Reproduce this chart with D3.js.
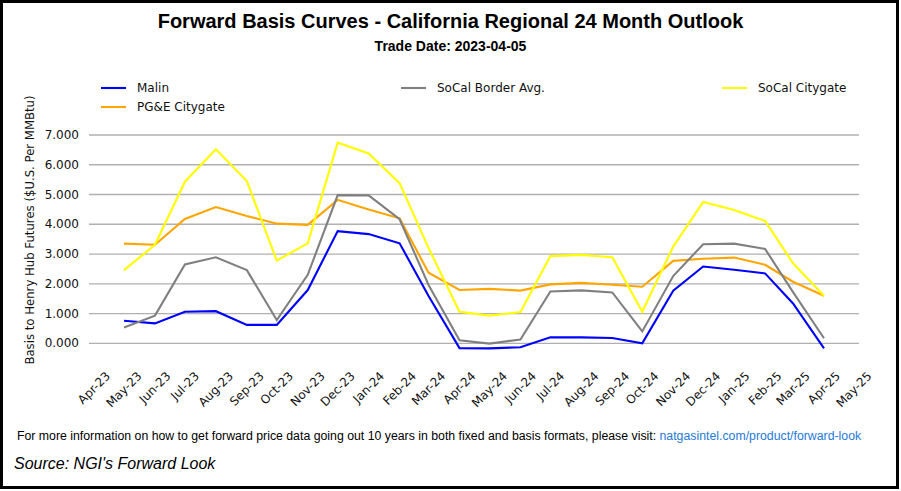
<!DOCTYPE html>
<html>
<head>
<meta charset="utf-8">
<script src="https://cdn.jsdelivr.net/npm/d3@7"></script>
<style>
  html, body { margin: 0; padding: 0; background: #fff; }
  svg { display: block; }
</style>
</head>
<body>
<svg id="chart" width="901" height="491"></svg>
<script>
// ---- data ----
const months = ["2023-05","2023-06","2023-07","2023-08","2023-09","2023-10","2023-11","2023-12",
  "2024-01","2024-02","2024-03","2024-04","2024-05","2024-06","2024-07","2024-08","2024-09","2024-10",
  "2024-11","2024-12","2025-01","2025-02","2025-03","2025-04"];
const malin = [0.76,0.67,1.06,1.08,0.62,0.62,1.79,3.77,3.67,3.36,1.59,-0.16,-0.17,-0.13,0.20,0.20,0.18,0.00,1.77,2.58,2.47,2.35,1.34,-0.17];
const pgeCitygate = [3.35,3.31,4.18,4.58,4.28,4.02,3.98,4.82,4.50,4.20,2.37,1.79,1.83,1.77,1.98,2.03,1.97,1.90,2.77,2.84,2.88,2.64,2.07,1.60];
const socalBorder = [0.53,0.93,2.65,2.89,2.46,0.78,2.30,4.98,4.97,4.17,1.96,0.10,-0.01,0.13,1.74,1.78,1.71,0.40,2.26,3.33,3.35,3.17,1.72,0.17];
const socalCitygate = [2.46,3.31,5.43,6.52,5.45,2.78,3.36,6.74,6.38,5.38,3.20,1.06,0.93,1.05,2.93,2.97,2.89,1.06,3.25,4.75,4.48,4.11,2.69,1.60];
const seriesNames = ["Malin","PG&E Citygate","SoCal Border Avg.","SoCal Citygate"];
const seriesColors = ["#0000ff","#ffa500","#808080","#ffff00"];
const yTicks = [0,1,2,3,4,5,6,7];
const titleText = "Forward Basis Curves - California Regional 24 Month Outlook";
const subtitleText = "Trade Date: 2023-04-05";
const yLabelText = "Basis to Henry Hub Futures ($U.S. Per MMBtu)";
const footerText = "For more information on how to get forward price data going out 10 years in both fixed and basis formats, please visit: ";
const footerLink = "natgasintel.com/product/forward-look";
const sourceText = "Source: NGI's Forward Look";

// ---- setup ----
const svg = d3.select("#chart");
const W = 901, H = 491;
const parse = d3.timeParse("%Y-%m");
const dates = months.map(parse);
const allSeries = [malin, pgeCitygate, socalBorder, socalCitygate];

const plot = { left: 89, right: 859, top: 132.0, bottom: 358.2 };

// x: time scale with 5% margins on each side (matplotlib-like autoscale)
const ext = d3.extent(dates);
const span = ext[1] - ext[0];
const x = d3.scaleTime()
  .domain([new Date(+ext[0] - span * 0.05), new Date(+ext[1] + span * 0.05)])
  .range([plot.left, plot.right]);
const y = d3.scaleLinear().domain([-0.5, 7.1]).range([plot.bottom, plot.top]);

svg.append("rect").attr("width", W).attr("height", H).attr("fill", "#fff");

// gridlines
svg.append("g").selectAll("line").data(yTicks).join("line")
  .attr("x1", plot.left).attr("x2", plot.right)
  .attr("y1", d => y(d)).attr("y2", d => y(d))
  .attr("stroke", "#b0b0b0").attr("stroke-width", 1.3);

// y tick labels
svg.append("g").selectAll("text").data(yTicks).join("text")
  .attr("x", 79).attr("y", d => y(d))
  .attr("text-anchor", "end").attr("dominant-baseline", "central")
  .attr("font-family", "DejaVu Sans").attr("font-size", 12).attr("fill", "#111")
  .text(d => d3.format(".3f")(d));

// y axis label
svg.append("text")
  .attr("transform", `translate(30,230) rotate(-90)`)
  .attr("text-anchor", "middle").attr("dominant-baseline", "central")
  .attr("font-family", "DejaVu Sans").attr("font-size", 11.7).attr("fill", "#111")
  .text(yLabelText);

// x tick labels (rotated 45°, bbox centred on the tick, tops aligned)
const xTicks = x.ticks(d3.timeMonth.every(1));
const fmt = d3.timeFormat("%b-%y");
const xl = svg.append("g");
const fs = 12, fh = fs * 1.164;
const topY = 369;
xTicks.forEach(t => {
  const g = xl.append("g");
  const txt = g.append("text")
    .attr("text-anchor", "middle").attr("dominant-baseline", "central")
    .attr("font-family", "DejaVu Sans").attr("font-size", fs).attr("fill", "#111")
    .text(fmt(t));
  const w = txt.node().getComputedTextLength();
  const half = (w + fh) * Math.SQRT1_2 / 2;
  g.attr("transform", `translate(${x(t)},${topY + half}) rotate(-45)`);
});

// lines
const line = d3.line().x((d, i) => x(dates[i])).y(d => y(d));
svg.append("g").selectAll("path").data(allSeries).join("path")
  .attr("d", d => line(d))
  .attr("fill", "none")
  .attr("stroke", (d, i) => seriesColors[i])
  .attr("stroke-width", 2.1)
  .attr("stroke-linejoin", "miter");

// title + subtitle
svg.append("text").attr("x", W / 2).attr("y", 28).attr("text-anchor", "middle")
  .attr("font-family", "Liberation Sans, Arial").attr("font-weight", "bold").attr("font-size", 20)
  .text(titleText);
svg.append("text").attr("x", W / 2).attr("y", 51).attr("text-anchor", "middle")
  .attr("font-family", "Liberation Sans, Arial").attr("font-weight", "bold").attr("font-size", 14)
  .text(subtitleText);

// legend (3 columns, column-wise fill)
const legendPos = [
  { x: 101, y: 88 },   // Malin
  { x: 101, y: 107 },  // PG&E
  { x: 401, y: 88 },   // SoCal Border
  { x: 722, y: 88 }    // SoCal Citygate
];
const lg = svg.append("g");
seriesNames.forEach((n, i) => {
  const p = legendPos[i];
  lg.append("line").attr("x1", p.x).attr("x2", p.x + 25).attr("y1", p.y).attr("y2", p.y)
    .attr("stroke", seriesColors[i]).attr("stroke-width", 2.1);
  lg.append("text").attr("x", p.x + 36).attr("y", p.y).attr("dominant-baseline", "central")
    .attr("font-family", "DejaVu Sans").attr("font-size", 12).attr("fill", "#111").text(n);
});

// footer
const ft = svg.append("text").attr("x", 17).attr("y", 440)
  .attr("font-family", "Liberation Sans, Arial").attr("font-size", 12.3).attr("fill", "#000");
ft.append("tspan").text(footerText);
ft.append("tspan").attr("fill", "#1f7ad8").text(footerLink);
svg.append("text").attr("x", 14).attr("y", 469)
  .attr("font-family", "Liberation Sans, Arial").attr("font-style", "italic").attr("font-size", 16)
  .attr("fill", "#000").text(sourceText);

// outer frame
svg.append("rect").attr("x", 1.5).attr("y", 1.5).attr("width", W - 5).attr("height", H - 5)
  .attr("fill", "none").attr("stroke", "#000").attr("stroke-width", 3);
</script>
</body>
</html>
